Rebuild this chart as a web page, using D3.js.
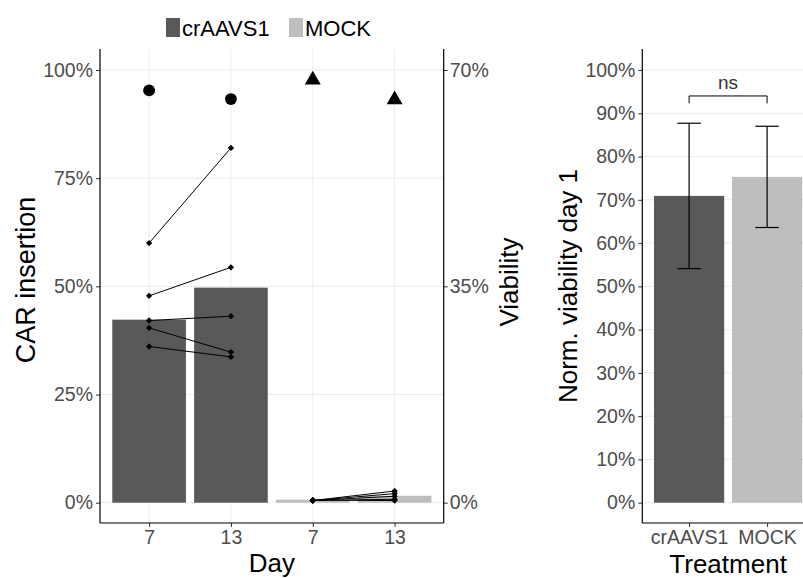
<!DOCTYPE html>
<html>
<head>
<meta charset="utf-8">
<script src="https://cdn.jsdelivr.net/npm/d3@7"></script>
<style>
  body { margin: 0; background: #fff; }
  svg { display: block; font-family: "Liberation Sans", Arial, Helvetica, sans-serif; }
</style>
</head>
<body>
<svg id="chart" width="803" height="578"></svg>
<script>
// ---------- data ----------
const groups = ["crAAVS1", "MOCK"];
const groupColors = ["#595959", "#bebebe"];
const dayLabels = ["7", "13", "7", "13"];
const dayGroups = ["crAAVS1", "crAAVS1", "MOCK", "MOCK"];
const carInsertion = [0.423, 0.497, 0.007, 0.016];     // bar heights
const viability = [0.667, 0.653, 0.684, 0.652];        // secondary axis (points)
const viabilityShape = ["circle", "circle", "triangle", "triangle"];
// paired donor lines (day 7 -> day 13)
const crDay7 = [0.600, 0.478, 0.421, 0.404, 0.361];
const crDay13 = [0.820, 0.544, 0.431, 0.348, 0.337];
const mockDay7 = [0.005, 0.005, 0.005, 0.005, 0.006];
const mockDay13 = [0.027, 0.021, 0.015, 0.008, 0.005];
const carTicks = [0, 0.25, 0.5, 0.75, 1];
const viabTicks = [0, 0.35, 0.7];

const treatments = ["crAAVS1", "MOCK"];
const normViability = [0.709, 0.753];
const normViabilitySD = [0.168, 0.117];
const normTicks = [0, 0.1, 0.2, 0.3, 0.4, 0.5, 0.6, 0.7, 0.8, 0.9, 1.0];
const sigLabel = "ns";

// ---------- setup ----------
const svg = d3.select("#chart");
const gridColor = "#ebebeb";
const tickColor = "#4d4d4d";
const pct = d3.format(".0%");
const colorOf = d3.scaleOrdinal().domain(groups).range(groupColors);

const yTop = 49, yBot = 523;
const y = d3.scaleLinear().domain([0, 1]).range([502.7, 70]);
const yV = d3.scaleLinear().domain([0, 0.7]).range([502.7, 70]);

// ---------- left panel ----------
const L = { left: 100, right: 443.7 };
const idx = dayLabels.map((d, i) => String(i));
const x = d3.scalePoint().domain(idx).range([L.left, L.right]).padding(0.6);
const bw = x.step() * 0.9;

const gL = svg.append("g");
// grid
gL.selectAll("line.hg").data(carTicks).join("line")
  .attr("x1", L.left).attr("x2", L.right)
  .attr("y1", d => y(d)).attr("y2", d => y(d))
  .attr("stroke", gridColor).attr("stroke-width", 1);
gL.selectAll("line.vg").data(idx).join("line")
  .attr("x1", d => x(d)).attr("x2", d => x(d))
  .attr("y1", yTop).attr("y2", yBot)
  .attr("stroke", gridColor).attr("stroke-width", 1);
// bars
gL.selectAll("rect.bar").data(idx).join("rect")
  .attr("x", d => x(d) - bw / 2).attr("width", bw)
  .attr("y", d => y(carInsertion[+d])).attr("height", d => y(0) - y(carInsertion[+d]))
  .attr("fill", d => colorOf(dayGroups[+d]));
// donor lines
const pairs = [];
crDay7.forEach((v, i) => pairs.push({ a: "0", b: "1", va: v, vb: crDay13[i] }));
mockDay7.forEach((v, i) => pairs.push({ a: "2", b: "3", va: v, vb: mockDay13[i] }));
gL.selectAll("line.pair").data(pairs).join("line")
  .attr("x1", d => x(d.a)).attr("x2", d => x(d.b))
  .attr("y1", d => y(d.va)).attr("y2", d => y(d.vb))
  .attr("stroke", "#000").attr("stroke-width", 1);
const diamonds = [];
pairs.forEach(p => { diamonds.push({ k: p.a, v: p.va }); diamonds.push({ k: p.b, v: p.vb }); });
const diamondSym = d3.symbol().type(d3.symbolSquare).size(20);
gL.selectAll("path.dia").data(diamonds).join("path")
  .attr("d", diamondSym)
  .attr("transform", d => `translate(${x(d.k)},${y(d.v)}) rotate(45)`)
  .attr("fill", "#000");
// viability points
const circSym = d3.symbol().type(d3.symbolCircle).size(110);
const triSym = d3.symbol().type(d3.symbolTriangle).size(110);
gL.selectAll("path.via").data(idx).join("path")
  .attr("d", d => viabilityShape[+d] === "circle" ? circSym() : triSym())
  .attr("transform", d => `translate(${x(d)},${yV(viability[+d])})`)
  .attr("fill", "#000");

// axes
const axL = gL.append("g").attr("transform", `translate(${L.left},0)`)
  .call(d3.axisLeft(y).tickValues(carTicks).tickFormat(pct).tickSize(4).tickPadding(3));
const axR = gL.append("g").attr("transform", `translate(${L.right},0)`)
  .call(d3.axisRight(yV).tickValues(viabTicks).tickFormat(pct).tickSize(4).tickPadding(2));
const axB = gL.append("g").attr("transform", `translate(0,${yBot})`)
  .call(d3.axisBottom(x).tickFormat(d => dayLabels[+d]).tickSize(4).tickPadding(3));
[axL, axR, axB].forEach(a => {
  a.select(".domain").remove();
  a.selectAll(".tick line").attr("stroke", "#333");
  a.selectAll(".tick text").attr("fill", tickColor).style("font-size", "19.5px");
});
gL.append("line").attr("x1", L.left).attr("x2", L.left).attr("y1", yTop).attr("y2", yBot).attr("stroke", "#000").attr("stroke-width", 1.2);
gL.append("line").attr("x1", L.right).attr("x2", L.right).attr("y1", yTop).attr("y2", yBot).attr("stroke", "#000").attr("stroke-width", 1.2);
gL.append("line").attr("x1", L.left).attr("x2", L.right).attr("y1", yBot).attr("y2", yBot).attr("stroke", "#000").attr("stroke-width", 1.2);

// titles
gL.append("text").attr("transform", `translate(35,${(yTop + yBot) / 2 - 6}) rotate(-90)`)
  .attr("text-anchor", "middle").style("font-size", "27px").attr("fill", "#000").text("CAR insertion");
gL.append("text").attr("transform", `translate(518,${(yTop + yBot) / 2 - 4}) rotate(-90)`)
  .attr("text-anchor", "middle").style("font-size", "26px").attr("fill", "#000").text("Viability");
gL.append("text").attr("x", (L.left + L.right) / 2).attr("y", 572)
  .attr("text-anchor", "middle").style("font-size", "26px").attr("fill", "#000").text("Day");

// legend
const leg = svg.append("g");
const legX = [166, 289];
groups.forEach((g, i) => {
  leg.append("rect").attr("x", legX[i]).attr("y", 18).attr("width", 14).attr("height", 19).attr("fill", colorOf(g));
  leg.append("text").attr("x", legX[i] + 16).attr("y", 36).style("font-size", "22px").attr("fill", "#000").text(g);
});

// ---------- right panel ----------
const R = { left: 642.3, right: 813.9 };
const xr = d3.scalePoint().domain(treatments).range([R.left, R.right]).padding(0.6);
const bwr = xr.step() * 0.9;
const gR = svg.append("g");
gR.selectAll("line.hg").data(normTicks).join("line")
  .attr("x1", R.left).attr("x2", R.right)
  .attr("y1", d => y(d)).attr("y2", d => y(d))
  .attr("stroke", gridColor).attr("stroke-width", 1);
gR.selectAll("rect.bar").data(treatments).join("rect")
  .attr("x", d => xr(d) - bwr / 2).attr("width", bwr)
  .attr("y", (d, i) => y(normViability[i])).attr("height", (d, i) => y(0) - y(normViability[i]))
  .attr("fill", d => colorOf(d));
// error bars
const capW = xr.step() * 0.3;
treatments.forEach((t, i) => {
  const lo = normViability[i] - normViabilitySD[i], hi = normViability[i] + normViabilitySD[i];
  const cx = xr(t);
  gR.append("line").attr("x1", cx).attr("x2", cx).attr("y1", y(lo)).attr("y2", y(hi)).attr("stroke", "#000").attr("stroke-width", 1.2);
  gR.append("line").attr("x1", cx - capW / 2).attr("x2", cx + capW / 2).attr("y1", y(lo)).attr("y2", y(lo)).attr("stroke", "#000").attr("stroke-width", 1.2);
  gR.append("line").attr("x1", cx - capW / 2).attr("x2", cx + capW / 2).attr("y1", y(hi)).attr("y2", y(hi)).attr("stroke", "#000").attr("stroke-width", 1.2);
});
// significance bracket
const by = y(0.94), bt = y(0.923);
gR.append("path")
  .attr("d", `M${xr(treatments[0])},${bt}V${by}H${xr(treatments[1])}V${bt}`)
  .attr("fill", "none").attr("stroke", "#000").attr("stroke-width", 1);
gR.append("text").attr("x", (xr(treatments[0]) + xr(treatments[1])) / 2).attr("y", by - 7)
  .attr("text-anchor", "middle").style("font-size", "19px").attr("fill", "#333").text(sigLabel);

const axRL = gR.append("g").attr("transform", `translate(${R.left},0)`)
  .call(d3.axisLeft(y).tickValues(normTicks).tickFormat(pct).tickSize(4).tickPadding(3));
const axRB = gR.append("g").attr("transform", `translate(0,${yBot})`)
  .call(d3.axisBottom(xr).tickSize(4).tickPadding(3));
[axRL, axRB].forEach(a => {
  a.select(".domain").remove();
  a.selectAll(".tick line").attr("stroke", "#333");
  a.selectAll(".tick text").attr("fill", tickColor).style("font-size", "19.5px");
});
gR.append("line").attr("x1", R.left).attr("x2", R.left).attr("y1", yTop).attr("y2", yBot).attr("stroke", "#000").attr("stroke-width", 1.2);
gR.append("line").attr("x1", R.left).attr("x2", R.right).attr("y1", yBot).attr("y2", yBot).attr("stroke", "#000").attr("stroke-width", 1.2);

gR.append("text").attr("transform", `translate(577,${(yTop + yBot) / 2}) rotate(-90)`)
  .attr("text-anchor", "middle").style("font-size", "26px").attr("fill", "#000").text("Norm. viability day 1");
gR.append("text").attr("x", (R.left + R.right) / 2).attr("y", 573)
  .attr("text-anchor", "middle").style("font-size", "26px").attr("fill", "#000").text("Treatment");
</script>
</body>
</html>
